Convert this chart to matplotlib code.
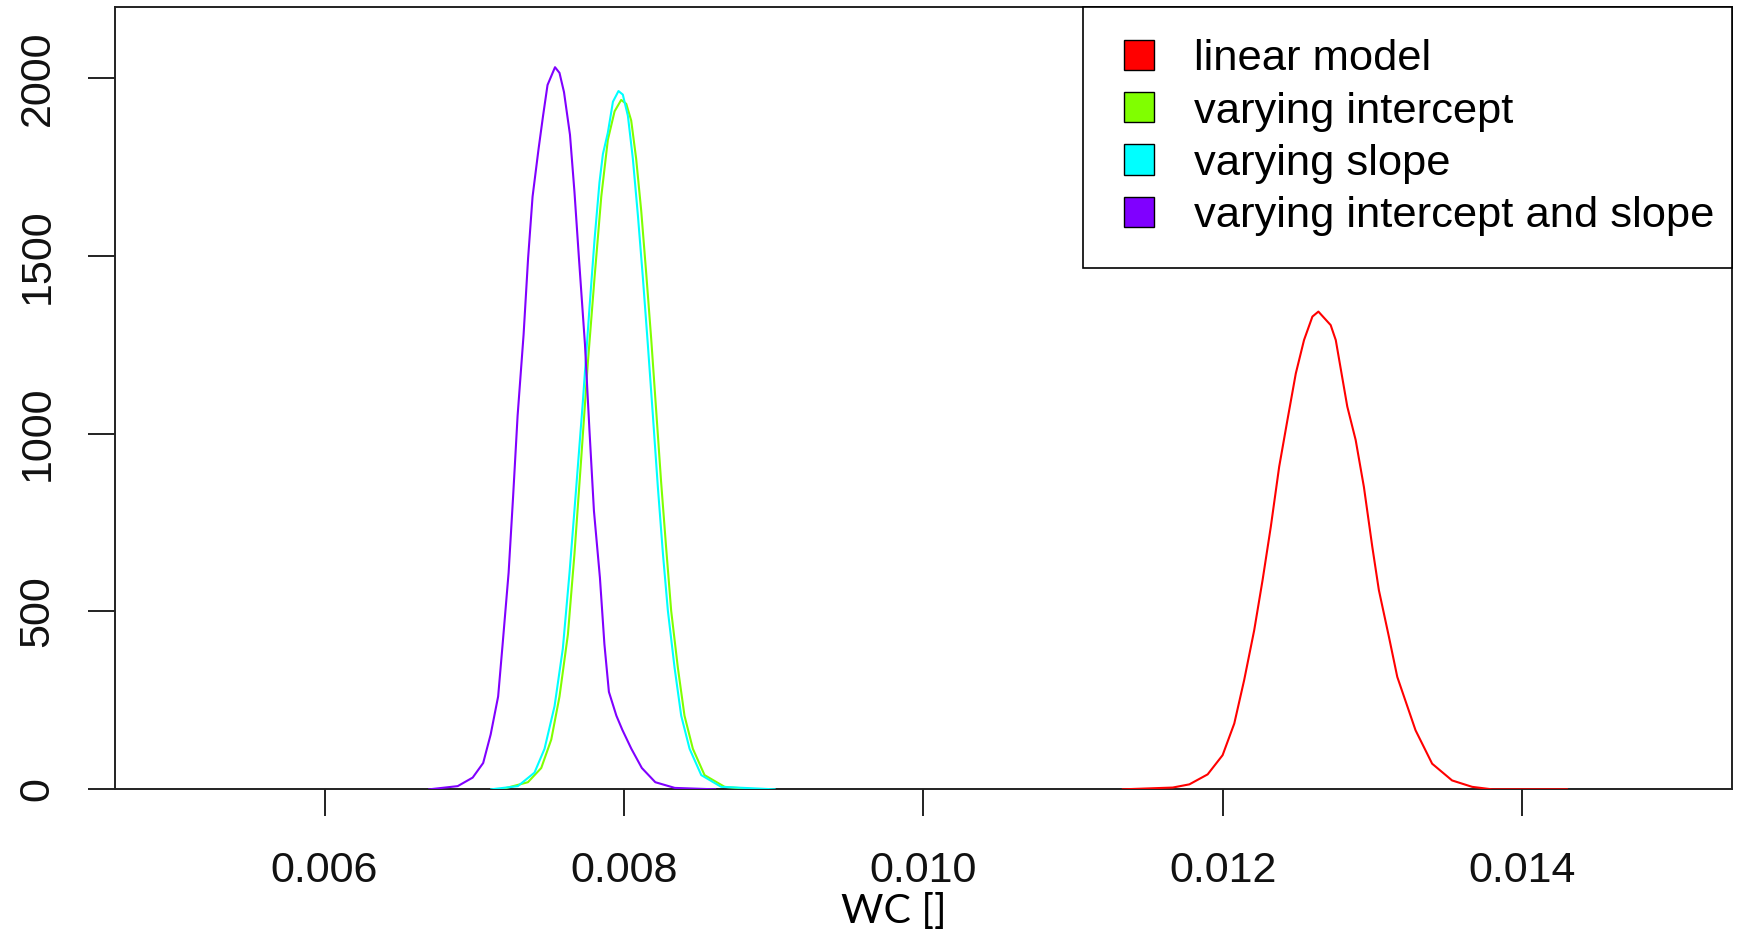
import matplotlib
matplotlib.use("Agg")
import matplotlib.pyplot as plt
from matplotlib.patches import Patch, Rectangle
from matplotlib.legend_handler import HandlerPatch

plt.rcParams['font.family'] = ['Liberation Sans', 'DejaVu Sans']

# posterior densities of WC for the four models
labels = ['linear model', 'varying intercept', 'varying slope',
          'varying intercept and slope']
colors = ['#FF0000', '#80FF00', '#00FFFF', '#8000FF']

x_linear = [0.011333, 0.011667, 0.011778, 0.011900, 0.012000, 0.012078, 0.012144,
            0.012211, 0.012267, 0.012322, 0.012378, 0.012433, 0.012489, 0.012544,
            0.012600, 0.012640, 0.012722, 0.012756, 0.012833, 0.012889, 0.012944,
            0.013000, 0.013044, 0.013111, 0.013167, 0.013289, 0.013400, 0.013533,
            0.013667, 0.013800, 0.014300]
d_linear = [0, 5, 14, 42, 96, 185, 307, 447, 588, 738, 907, 1038, 1169, 1263,
            1329, 1343, 1305, 1263, 1076, 982, 850, 682, 560, 429, 316, 166, 72,
            25, 7, 0, 0]

x_int = [0.007180, 0.007359, 0.007448, 0.007515, 0.007570, 0.007626, 0.007670,
         0.007715, 0.007759, 0.007804, 0.007849, 0.007893, 0.007938, 0.007982,
         0.008016, 0.008049, 0.008082, 0.008116, 0.008149, 0.008183, 0.008216,
         0.008249, 0.008283, 0.008316, 0.008361, 0.008405, 0.008461, 0.008539,
         0.008673, 0.008873]
d_int = [0, 20, 60, 140, 261, 435, 662, 930, 1197, 1438, 1666, 1826, 1906, 1938,
         1927, 1880, 1773, 1626, 1452, 1264, 1064, 863, 676, 502, 341, 207, 114,
         40, 7, 0]

x_slope = [0.007114, 0.007292, 0.007403, 0.007470, 0.007537, 0.007592, 0.007637,
           0.007682, 0.007726, 0.007771, 0.007804, 0.007837, 0.007860, 0.007893,
           0.007927, 0.007964, 0.007993, 0.008027, 0.008060, 0.008094, 0.008127,
           0.008160, 0.008194, 0.008227, 0.008261, 0.008294, 0.008339, 0.008383,
           0.008439, 0.008517, 0.008650, 0.009007]
d_slope = [0, 9, 47, 114, 234, 395, 609, 850, 1090, 1358, 1545, 1706, 1786, 1846,
           1933, 1963, 1953, 1893, 1773, 1612, 1438, 1251, 1050, 850, 662, 502,
           341, 207, 114, 40, 7, 0]

x_both = [0.00670, 0.00689, 0.00699, 0.00706, 0.00711, 0.00716, 0.00719, 0.00723,
          0.00726, 0.00729, 0.00733, 0.00736, 0.00739, 0.00743, 0.00746, 0.00749,
          0.00754, 0.00757, 0.00760, 0.00764, 0.00767, 0.00770, 0.00774, 0.00777,
          0.00780, 0.00784, 0.00787, 0.00790, 0.00795, 0.00799, 0.00805, 0.00812,
          0.00821, 0.00834, 0.00861]
d_both = [0, 9, 33, 74, 154, 261, 408, 609, 823, 1050, 1278, 1492, 1666, 1800,
          1893, 1980, 2030, 2014, 1960, 1840, 1679, 1492, 1251, 1010, 783, 595,
          408, 274, 207, 167, 114, 60, 20, 4, 0]

x_ticks = [0.006, 0.008, 0.010, 0.012, 0.014]
x_ticklabels = ['0.006', '0.008', '0.010', '0.012', '0.014']
y_ticks = [0, 500, 1000, 1500, 2000]


def square_right(legend, orig_handle, xdescent, ydescent, width, height, fontsize):
    # fill-box key pushed to the right end of the handle slot
    side = height
    return Rectangle((-xdescent + width - side, -ydescent), side, side)


fig = plt.figure(figsize=(17.39, 9.35), dpi=100)
ax = fig.add_axes([0.0661, 0.1558, 0.9296, 0.8370])

series = [(x_linear, d_linear), (x_int, d_int), (x_slope, d_slope), (x_both, d_both)]
for (xs, ds), c in zip(series, colors):
    ax.plot(xs, ds, color=c, lw=1.5, zorder=3, solid_joinstyle='round')

ax.set_xlim(0.0046, 0.0154)
ax.set_ylim(0, 2200)
ax.set_xticks(x_ticks)
ax.set_xticklabels(x_ticklabels)
ax.set_yticks(y_ticks)
ax.set_yticklabels([str(v) for v in y_ticks], rotation=90, va='center')

ax.tick_params(axis='both', length=19.4, width=1.4, colors='#222222',
               labelcolor='#111111', labelsize=31)
ax.tick_params(axis='x', pad=25)
ax.tick_params(axis='y', pad=22)
for sp in ax.spines.values():
    sp.set_linewidth(1.4)
    sp.set_color('#222222')

handles = [Patch(facecolor=c, edgecolor='black', lw=1.0) for c in colors]
leg = ax.legend(handles, labels, loc='upper left', bbox_to_anchor=(0.599, 0, 0.401, 1),
                mode='expand', borderaxespad=0, fontsize=31.3,
                handlelength=0.87, handleheight=0.69, handletextpad=0.92,
                labelspacing=0.28, borderpad=0.75,
                handler_map={Patch: HandlerPatch(patch_func=square_right)},
                fancybox=False, framealpha=1, edgecolor='black')
leg.get_frame().set_linewidth(1.2)

fig.text(894 / 1739, 1 - 923 / 935, 'WC []', family=['Lato', 'DejaVu Sans'],
         fontsize=29.5, ha='center', va='baseline')

fig.savefig('out.png', dpi=100, facecolor='white')
